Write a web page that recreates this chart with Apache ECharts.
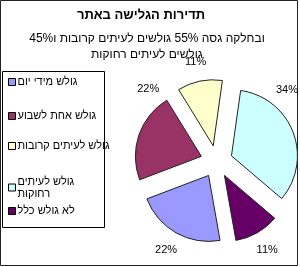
<!DOCTYPE html>
<html><head><meta charset="utf-8">
<script src="https://cdn.jsdelivr.net/npm/echarts@6/dist/echarts.min.js"></script>
<style>html,body{margin:0;padding:0;background:#fff}#c{width:300px;height:267px}</style>
</head><body><div id="c"></div>
<script>
const titleText = 'תדירות הגלישה באתר';
const subtitleLines = ['ובחלקה גסה 55% גולשים לעיתים קרובות ו45%', 'גולשים לעיתים רחוקות'];
const categories = ['גולש מידי יום', 'גולש אחת לשבוע', 'גולש לעיתים קרובות', 'גולש לעיתים רחוקות', 'לא גולש כלל'];
const values = [22, 22, 11, 34, 11];
const colors = ['#9999FF', '#993366', '#FFFFCC', '#CCFFFF', '#660066'];

const FONT = '"Liberation Sans", Arial, sans-serif';
const CX = 216.5, CY = 161.5, R = 66, OFF = 16, LR = 86;
const START = 170; // degrees clockwise from 12 o'clock
const XMIN = 136, XMAX = 299;
const legendTops = [71, 105, 135, 171, 200];
const total = values.reduce((a, b) => a + b, 0);
const rad = d => d * Math.PI / 180;

// Excel-like "best fit": label on the slice's mid direction, slid along the arc toward the top if it would leave the plot area
function labelLayout(p) {
  const i = p.dataIndex;
  let acc = START;
  for (let k = 0; k < i; k++) acc += values[k] / total * 360;
  const mid = acc + values[i] / total * 180;
  const ox = CX + OFF * Math.sin(rad(mid)), oy = CY - OFF * Math.cos(rad(mid));
  const w = p.labelRect.width / 2;
  let a = ((mid % 360) + 360) % 360;
  const dir = Math.sin(rad(a)) >= 0 ? -1 : 1;
  let x = ox + LR * Math.sin(rad(a));
  for (let s = 0; s < 90 && (x + w > XMAX || x - w < XMIN); s++) {
    a += dir;
    x = ox + LR * Math.sin(rad(a));
  }
  const y = oy - LR * Math.cos(rad(a));
  return { x: x, y: y, align: 'center', verticalAlign: 'middle' };
}

const legends = categories.map((n, i) => ({
  data: [n], left: 3, top: legendTops[i], orient: 'vertical', icon: 'rect',
  itemWidth: 7, itemHeight: 7, selectedMode: false,
  itemStyle: { borderColor: '#000', borderWidth: 1 },
  formatter: name => name === 'גולש לעיתים רחוקות' ? 'גולש לעיתים\nרחוקות' : name,
  textStyle: { fontFamily: FONT, fontSize: 11, color: '#000', lineHeight: 12,
    padding: i === 3 ? [0, 0, -12, -3] : [0, 0, 0, -3] }
}));

const chart = echarts.init(document.getElementById('c'), null, { renderer: 'canvas' });
chart.setOption({
  animation: false,
  backgroundColor: '#fff',
  legend: legends,
  graphic: [
    { type: 'rect', shape: { x: 0.5, y: 0.5, width: 297, height: 265 }, style: { fill: 'none', stroke: '#222', lineWidth: 1 }, z: -1 },
    { type: 'rect', shape: { x: 2.5, y: 71.5, width: 102, height: 156 }, style: { fill: 'none', stroke: '#000', lineWidth: 1 }, z: -1 },
    { type: 'text', x: 141, y: 15, style: { text: titleText, align: 'center', verticalAlign: 'middle', fontFamily: FONT, fontSize: 13, fontWeight: 'bold', fill: '#000' } },
    { type: 'text', x: 147, y: 39, style: { text: subtitleLines[0], align: 'center', verticalAlign: 'middle', fontFamily: FONT, fontSize: 12, fill: '#000' } },
    { type: 'text', x: 147, y: 55, style: { text: subtitleLines[1], align: 'center', verticalAlign: 'middle', fontFamily: FONT, fontSize: 12, fill: '#000' } }
  ],
  series: [{
    type: 'pie',
    center: [CX, CY],
    radius: R,
    startAngle: 90 - START,
    clockwise: true,
    selectedMode: 'multiple',
    selectedOffset: OFF,
    avoidLabelOverlap: false,
    silent: true,
    data: categories.map((n, i) => ({ name: n, value: values[i], selected: true, itemStyle: { color: colors[i] } })),
    itemStyle: { borderColor: '#222', borderWidth: 1 },
    select: { itemStyle: { borderColor: '#222', borderWidth: 1 } },
    emphasis: { disabled: true },
    label: { show: false },
    labelLine: { show: false }
  }, {
    // label carrier: same slices, invisible, holds the percentage labels
    type: 'pie',
    center: [CX, CY],
    radius: 10,
    startAngle: 90 - START,
    clockwise: true,
    silent: true,
    avoidLabelOverlap: false,
    data: categories.map((n, i) => ({ name: n, value: values[i] })),
    itemStyle: { color: 'rgba(0,0,0,0)', borderWidth: 0 },
    emphasis: { disabled: true },
    label: { show: true, position: 'outside', formatter: '{d}%', fontFamily: FONT, fontSize: 11, color: '#000' },
    labelLine: { show: false },
    labelLayout: labelLayout
  }]
});
</script>
</body></html>
